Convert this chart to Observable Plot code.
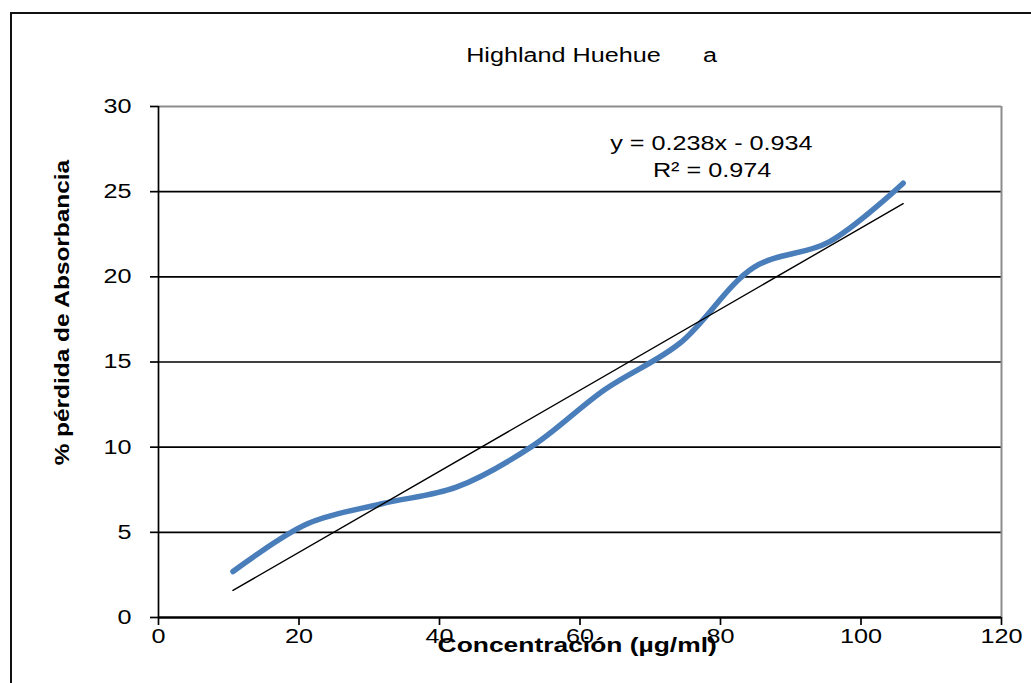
<!DOCTYPE html>
<html>
<head>
<meta charset="utf-8">
<script src="https://cdn.jsdelivr.net/npm/d3@7"></script>
<script src="https://cdn.jsdelivr.net/npm/@observablehq/plot@0.6"></script>
<style>
  html, body { margin: 0; padding: 0; background: #fff; overflow: hidden; }
  #page { position: relative; width: 1031px; height: 683px; overflow: hidden; font-family: "Liberation Sans", Arial, sans-serif; background: #fff; }
  #chart { position: absolute; left: 0; top: 80px; }
  #frame { position: absolute; left: 10px; top: 12px; width: 1060px; height: 720px; border: 2px solid #111; box-sizing: border-box; background: transparent; pointer-events: none; }
  #title { position: absolute; left: 0; top: 44px; width: 1031px; padding-left: 153px; box-sizing: border-box; text-align: center; font-size: 20px; line-height: 22px; white-space: pre; color: #000; }
  #title span { display: inline-block; transform: scaleX(1.26); transform-origin: center; }
</style>
</head>
<body>
<div id="page">
  <div id="chart"></div>
  <div id="title"><span>Highland Huehue      a</span></div>
  <div id="frame"></div>
</div>
<script>
// Concentración (µg/ml) and % pérdida de absorbancia
const concentracion = [10.6, 21.2, 31.8, 42.4, 53.0, 63.6, 74.2, 84.8, 95.4, 106.0];
const perdida = [2.7, 5.5, 6.68, 7.65, 10.0, 13.4, 16.1, 20.57, 22.04, 25.5];

// Linear trend line as reported on the chart
const pendiente = 0.238;
const intercepto = -0.934;
const r2 = 0.974;

const xTicks = [0, 20, 40, 60, 80, 100, 120];
const yTicks = [0, 5, 10, 15, 20, 25, 30];
const gridY = [5, 10, 15, 20, 25];

const puntos = concentracion.map((c, i) => ({x: c, y: perdida[i]}));
const extremos = [concentracion[0], concentracion[concentracion.length - 1]];
const tendencia = extremos.map(x => ({x, y: pendiente * x + intercepto}));

const fmt = v => v.toFixed(3);
const lineaEcuacion = `y = ${fmt(pendiente)}x - ${fmt(-intercepto)}`;
const lineaR2 = `R² = ${fmt(r2)}`;
const tituloY = "% pérdida de Absorbancia";
const tituloX = "Concentración (µg/ml)";

const chart = Plot.plot({
  width: 1031,
  height: 603,
  marginLeft: 158,
  marginRight: 30,
  marginTop: 26,
  marginBottom: 66,
  style: {fontFamily: "Liberation Sans, Arial, sans-serif", fontSize: "20px", color: "#000", background: "transparent", overflow: "visible"},
  x: {domain: [0, 120]},
  y: {domain: [0, 30]},
  marks: [
    Plot.ruleY(gridY, {stroke: "#000", strokeWidth: 1.7}),
    Plot.ruleY([30], {stroke: "#8c8c8c", strokeWidth: 2}),
    Plot.ruleX([120], {stroke: "#8c8c8c", strokeWidth: 2}),
    Plot.ruleX([0], {stroke: "#000", strokeWidth: 1.7}),
    Plot.ruleY([0], {stroke: "#000", strokeWidth: 2.4}),
    Plot.axisY({ticks: yTicks, tickSize: 8, tickPadding: 19, stroke: "#000", strokeWidth: 1.7, label: null, fontSize: 20}),
    Plot.axisX({ticks: xTicks, tickSize: 8, tickPadding: 3, stroke: "#000", strokeWidth: 1.7, label: null, fontSize: 20}),
    Plot.line(puntos, {x: "x", y: "y", curve: "catmull-rom", stroke: "#4a7ebb", strokeWidth: 5.5, strokeLinecap: "round"}),
    Plot.line(tendencia, {x: "x", y: "y", stroke: "#000", strokeWidth: 1.4}),
    Plot.text([lineaEcuacion], {x: 78.7, y: 27.83, fontSize: 20, fill: "#000"}),
    Plot.text([lineaR2], {x: 78.8, y: 26.25, fontSize: 20, fill: "#000"}),
    Plot.text([tituloY], {x: -13.67, y: 17.9, rotate: -90, fontSize: 20, fontWeight: "bold", fill: "#000"}),
    Plot.text([tituloX], {x: 59.6, y: -1.64, fontSize: 20, fontWeight: "bold", fill: "#000"})
  ]
});
document.getElementById("chart").appendChild(chart);

// Widen glyphs along the baseline, as the chart's text is set slightly extended
const ensanche = {[tituloY]: 1.22, [tituloX]: 1.32};
chart.querySelectorAll("text").forEach(t => {
  const w = t.getComputedTextLength();
  if (!w) return;
  const f = ensanche[t.textContent] || 1.26;
  t.setAttribute("textLength", (w * f).toFixed(1));
  t.setAttribute("lengthAdjust", "spacingAndGlyphs");
});
</script>
</body>
</html>
